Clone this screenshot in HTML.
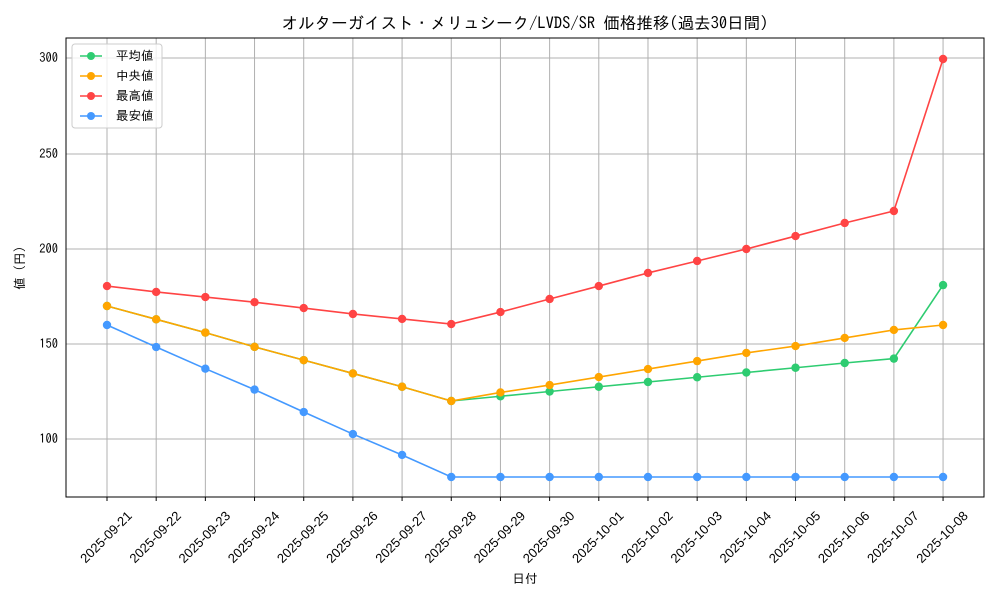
<!DOCTYPE html>
<html><head><meta charset="utf-8"><style>body{margin:0;background:#fff}svg text{font-family:"IPAGothic","Liberation Sans",sans-serif;fill:#000}</style></head><body>
<svg width="1000" height="600" xmlns="http://www.w3.org/2000/svg">
<rect width="1000" height="600" fill="#fff"/>
<g stroke="#b0b0b0" stroke-width="1">
<line x1="66" x2="984" y1="58" y2="58"/><line x1="66" x2="984" y1="154" y2="154"/><line x1="66" x2="984" y1="249" y2="249"/><line x1="66" x2="984" y1="344" y2="344"/><line x1="66" x2="984" y1="439" y2="439"/>
</g>
<g id="vx" stroke="#b0b0b0" stroke-width="1"></g>
<rect x="66" y="38" width="918" height="459" fill="none" stroke="#000" stroke-width="1"/>
<g font-size="12.5" text-anchor="end">
<text x="58" y="62">300</text><text x="58" y="158">250</text><text x="58" y="253">200</text><text x="58" y="348">150</text><text x="58" y="443">100</text>
</g>
<g id="xt"></g>
<text x="525" y="29" font-size="16.5" text-anchor="middle">オルターガイスト・メリュシーク/LVDS/SR 価格推移(過去30日間)</text>
<text x="525" y="583" font-size="12.5" text-anchor="middle">日付</text>
<text transform="translate(24,268) rotate(-90)" font-size="12.5" text-anchor="middle">値 (円)</text>
<g id="series"></g>
<rect x="72" y="44" width="90" height="84" fill="#fff" fill-opacity="0.8" stroke="#ccc" rx="3"/>
<g font-size="12.5">
<line x1="80" x2="102" y1="56" y2="56" stroke="#2ecc71" stroke-width="1.5"/><circle cx="91" cy="56" r="4" fill="#2ecc71"/><text x="116" y="60">平均値</text>
<line x1="80" x2="102" y1="76" y2="76" stroke="#ffa500" stroke-width="1.5"/><circle cx="91" cy="76" r="4" fill="#ffa500"/><text x="116" y="80">中央値</text>
<line x1="80" x2="102" y1="96" y2="96" stroke="#ff4444" stroke-width="1.5"/><circle cx="91" cy="96" r="4" fill="#ff4444"/><text x="116" y="100">最高値</text>
<line x1="80" x2="102" y1="116" y2="116" stroke="#4499ff" stroke-width="1.5"/><circle cx="91" cy="116" r="4" fill="#4499ff"/><text x="116" y="120">最安値</text>
</g>
</svg>
<script>
const ns="http://www.w3.org/2000/svg";
const X=i=>107+i*49.18;
const dates=["09-21","09-22","09-23","09-24","09-25","09-26","09-27","09-28","09-29","09-30","10-01","10-02","10-03","10-04","10-05","10-06","10-07","10-08"];
const vx=document.getElementById("vx"),xt=document.getElementById("xt");
dates.forEach((d,i)=>{const x=X(i);
let l=document.createElementNS(ns,"line");l.setAttribute("x1",x);l.setAttribute("x2",x);l.setAttribute("y1",38);l.setAttribute("y2",497);vx.appendChild(l);
let t=document.createElementNS(ns,"line");t.setAttribute("x1",x);t.setAttribute("x2",x);t.setAttribute("y1",497);t.setAttribute("y2",501);t.setAttribute("stroke","#000");xt.appendChild(t);
let tx=document.createElementNS(ns,"text");tx.setAttribute("font-size","13");tx.setAttribute("text-anchor","middle");tx.setAttribute("style","font-family:'Liberation Sans',sans-serif");tx.setAttribute("transform",`translate(${x-1},537) rotate(-45) translate(0,4.5)`);tx.textContent="2025-"+d;xt.appendChild(tx);});
const Y=v=>439-(v-100)*1.9;
const S=[
["#2ecc71",[170,163,156,148.5,141.5,134.5,127.5,120,122.5,125,127.5,130,132.5,135,137.5,140,142.3,181]],
["#ffa500",[170,163,156,148.5,141.5,134.5,127.5,120,124.5,128.4,132.6,136.8,141,145.3,148.9,153.2,157.4,160]],
["#ff4444",[180.5,177.4,174.7,172,168.9,165.8,163.2,160.5,166.8,173.7,180.5,187.4,193.7,200,206.8,213.7,220,300]],
["#4499ff",[160,148.4,137,126,114.2,102.6,91.6,80,80,80,80,80,80,80,80,80,80,80]]];
const g=document.getElementById("series");
S.forEach(([c,v])=>{let p=document.createElementNS(ns,"polyline");p.setAttribute("points",v.map((a,i)=>X(i)+","+Y(a)).join(" "));p.setAttribute("fill","none");p.setAttribute("stroke",c);p.setAttribute("stroke-width","1.6");g.appendChild(p);
v.forEach((a,i)=>{let ci=document.createElementNS(ns,"circle");ci.setAttribute("cx",X(i));ci.setAttribute("cy",Y(a));ci.setAttribute("r",4.2);ci.setAttribute("fill",c);g.appendChild(ci);});});
</script>
</body></html>
